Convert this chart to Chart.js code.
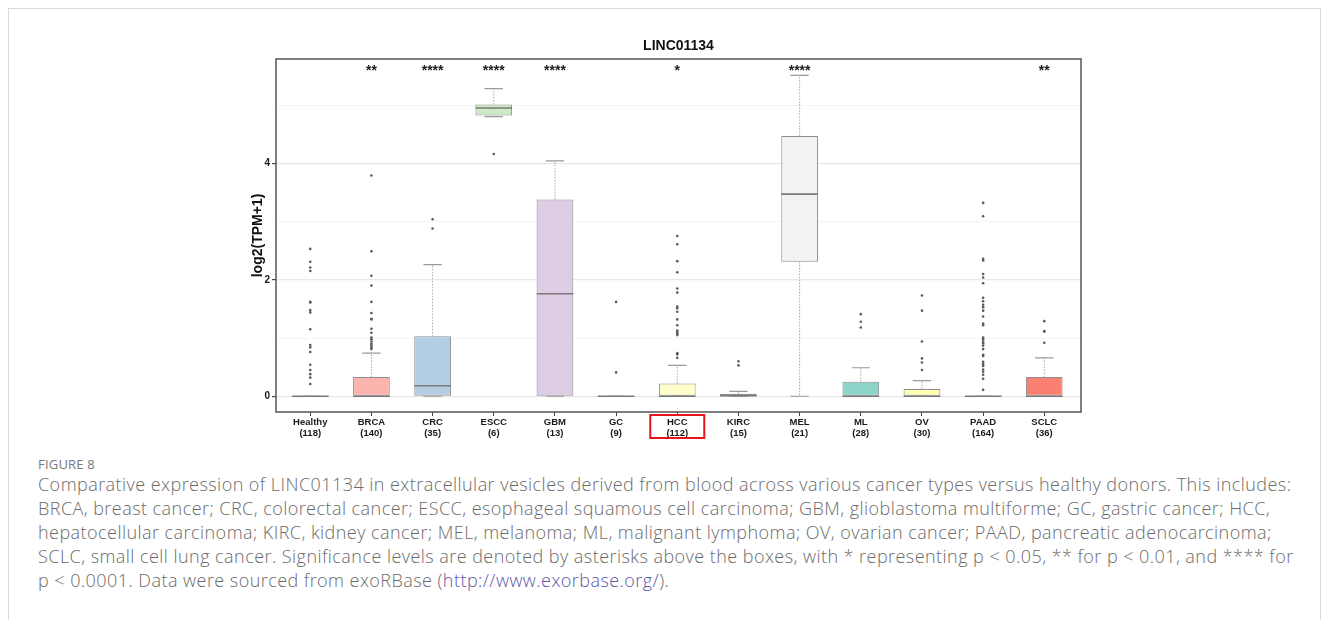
<!DOCTYPE html>
<html>
<head>
<meta charset="utf-8">
<script src="https://cdn.jsdelivr.net/npm/chart.js@4.4.1/dist/chart.umd.min.js"></script>
<style>
  html, body { margin: 0; padding: 0; background: #fff; }
  body { width: 1328px; height: 620px; position: relative; overflow: hidden; }
  #frame {
    position: absolute; left: 8px; top: 8px; width: 1313px; height: 640px;
    border: 1px solid #d9d9d9; box-sizing: border-box;
  }
  #chartBox { position: absolute; left: 0; top: 0; width: 1328px; height: 450px; }
  #caption {
    position: absolute; left: 38px; top: 456px; width: 1280px;
    font-family: "Open Sans", sans-serif; color: #6b6b6b;
  }
  .fig-label { font-size: 13px; line-height: 16px; color: #777; letter-spacing: 0.2px; }
  .fig-text { margin: 0; font-size: 18px; line-height: 24px; font-weight: 300; letter-spacing: 0.45px; white-space: nowrap; }
  .fig-text a { color: #5b56a8; text-decoration: none; }
</style>
</head>
<body>
<div id="frame"></div>
<div id="chartBox"><canvas id="boxplot"></canvas></div>
<div id="caption">
  <div class="fig-label">FIGURE 8</div>
  <p class="fig-text">Comparative expression of LINC01134 in extracellular vesicles derived from blood across various cancer types versus healthy donors. This includes:<br>BRCA, breast cancer; CRC, colorectal cancer; ESCC, esophageal squamous cell carcinoma; GBM, glioblastoma multiforme; GC, gastric cancer; HCC,<br>hepatocellular carcinoma; KIRC, kidney cancer; MEL, melanoma; ML, malignant lymphoma; OV, ovarian cancer; PAAD, pancreatic adenocarcinoma;<br>SCLC, small cell lung cancer. Significance levels are denoted by asterisks above the boxes, with * representing p &lt; 0.05, ** for p &lt; 0.01, and **** for<br>p &lt; 0.0001. Data were sourced from exoRBase (<a href="#">http://www.exorbase.org/</a>).</p>
</div>
<script>
// groups and sample sizes
const categories = ["Healthy", "BRCA", "CRC", "ESCC", "GBM", "GC", "HCC", "KIRC", "MEL", "ML", "OV", "PAAD", "SCLC"];
const sampleSizes = [118, 140, 35, 6, 13, 9, 112, 15, 21, 28, 30, 164, 36];

// box statistics, log2(TPM+1)
const lowerWhisker = [0, 0, 0, 4.80, 0, 0, 0, 0, 0, 0, 0, 0, 0];
const q1 = [0, 0, 0, 4.82, 0, 0, 0, 0, 2.31, 0, 0, 0, 0];
const median = [0, 0, 0.18, 4.95, 1.76, 0, 0, 0.01, 3.47, 0, 0, 0, 0];
const q3 = [0, 0.33, 1.03, 5.01, 3.38, 0, 0.22, 0.045, 4.47, 0.25, 0.125, 0, 0.33];
const upperWhisker = [0, 0.74, 2.26, 5.28, 4.04, 0, 0.53, 0.085, 5.51, 0.49, 0.27, 0, 0.66];

// outliers per group
const healthyOut = [2.53, 2.31, 2.21, 2.15, 1.62, 1.61, 1.48, 1.44, 1.15, 0.88, 0.84, 0.76, 0.54, 0.45, 0.38, 0.32, 0.21];
const brcaOut = [3.79, 2.49, 2.07, 1.90, 1.62, 1.43, 1.33, 1.32, 1.16, 1.09, 1.01, 0.98, 0.94, 0.90, 0.87, 0.84, 0.81];
const crcOut = [3.04, 2.88];
const esccOut = [4.16];
const gbmOut = [];
const gcOut = [1.62, 0.41];
const hccOut = [2.75, 2.61, 2.32, 2.13, 1.85, 1.78, 1.54, 1.51, 1.45, 1.32, 1.22, 1.13, 1.10, 1.07, 1.05, 0.74, 0.72, 0.66];
const kircOut = [0.60, 0.53];
const melOut = [];
const mlOut = [1.41, 1.28, 1.18];
const ovOut = [1.73, 1.47, 0.94, 0.65, 0.58, 0.45];
const paadOut = [3.32, 3.09, 2.36, 2.33, 2.10, 2.04, 1.94, 1.69, 1.63, 1.57, 1.53, 1.47, 1.37, 1.25, 1.22, 1.01, 0.98, 0.94, 0.91, 0.87, 0.81, 0.71, 0.69, 0.59, 0.55, 0.52, 0.46, 0.42, 0.37, 0.30, 0.11];
const sclcOut = [1.29, 1.12, 1.11, 0.92];
const outliers = [healthyOut, brcaOut, crcOut, esccOut, gbmOut, gcOut, hccOut, kircOut, melOut, mlOut, ovOut, paadOut, sclcOut];

// significance vs healthy
const significance = ["", "**", "****", "****", "****", "", "*", "", "****", "", "", "", "**"];
const significanceLevel = 5.63;
const highlighted = "HCC";
const chartTitle = "LINC01134";

const yTicks = [0, 1, 2, 3, 4, 5];

const boxColours = ["#E5D8BD", "#FBB4AE", "#B3CDE3", "#CCEBC5", "#DECBE4", "#FED9A6", "#FFFFCC",
  "#FDDAEC", "#F2F2F2", "#8DD3C7", "#FFFFB3", "#BEBADA", "#FB8072"];

const FONT = "'Liberation Sans', Arial, sans-serif";

const boxExtras = {
  id: "boxExtras",
  afterDatasetDraw(chart, args) {
    if (args.index !== 0) return;
    const ctx = chart.ctx;
    const xs = chart.scales.x, ys = chart.scales.y;
    const bars = chart.getDatasetMeta(0).data;
    ctx.save();
    categories.forEach((c, i) => {
      const x = xs.getPixelForValue(i + 1);
      const w = bars[i].width;
      const yLo = ys.getPixelForValue(lowerWhisker[i]);
      const yHi = ys.getPixelForValue(upperWhisker[i]);
      const yQ1 = ys.getPixelForValue(q1[i]);
      const yQ3 = ys.getPixelForValue(q3[i]);
      const yMed = ys.getPixelForValue(median[i]);
      // dotted whiskers
      ctx.strokeStyle = "#a8a8a8";
      ctx.lineWidth = 1;
      ctx.setLineDash([1.5, 1.5]);
      ctx.beginPath();
      if (yHi < yQ3) { ctx.moveTo(x, yQ3); ctx.lineTo(x, yHi); }
      if (yLo > yQ1) { ctx.moveTo(x, yQ1); ctx.lineTo(x, yLo); }
      ctx.stroke();
      // whisker caps
      ctx.setLineDash([]);
      ctx.strokeStyle = "#9a9a9a";
      ctx.lineWidth = 1.2;
      ctx.beginPath();
      ctx.moveTo(x - w / 4, yHi); ctx.lineTo(x + w / 4, yHi);
      ctx.moveTo(x - w / 4, yLo); ctx.lineTo(x + w / 4, yLo);
      ctx.stroke();
      // median
      ctx.strokeStyle = "#7a7a7a";
      ctx.lineWidth = 1.6;
      ctx.beginPath();
      ctx.moveTo(x - w / 2, yMed); ctx.lineTo(x + w / 2, yMed);
      ctx.stroke();
    });
    ctx.restore();
  },
  afterDraw(chart) {
    const ctx = chart.ctx;
    const xs = chart.scales.x, ys = chart.scales.y;
    const area = chart.chartArea;
    ctx.save();
    // panel border
    ctx.strokeStyle = "#555";
    ctx.lineWidth = 1.5;
    ctx.strokeRect(area.left, area.top, area.right - area.left, area.bottom - area.top);
    // title, centred over the panel
    ctx.fillStyle = "#111";
    ctx.font = "bold 14px " + FONT;
    ctx.textAlign = "center";
    ctx.textBaseline = "middle";
    ctx.fillText(chartTitle, (area.left + area.right) / 2, area.top - 13);
    // significance stars
    ctx.fillStyle = "#222";
    ctx.font = "bold 14px " + FONT;
    significance.forEach((s, i) => {
      if (s) ctx.fillText(s, xs.getPixelForValue(i + 1), ys.getPixelForValue(significanceLevel) + 3);
    });
    // highlighted group label
    const hx = xs.getPixelForValue(categories.indexOf(highlighted) + 1);
    ctx.strokeStyle = "#e8141b";
    ctx.lineWidth = 2;
    ctx.strokeRect(hx - 27, area.bottom + 3, 54, 23);
    ctx.restore();
  }
};

const ctx = document.getElementById("boxplot").getContext("2d");

new Chart(ctx, {
  type: "bar",
  data: {
    datasets: [
      {
        label: "box",
        data: categories.map((c, i) => ({ x: i + 1, y: [q1[i], q3[i]] })),
        backgroundColor: boxColours,
        borderColor: "#8e8e8e",
        borderWidth: 1,
        borderSkipped: false,
        barPercentage: 0.6,
        categoryPercentage: 1,
        order: 2
      },
      {
        type: "scatter",
        label: "outliers",
        data: outliers.flatMap((vals, i) => vals.map(v => ({ x: i + 1, y: v }))),
        pointRadius: 1.3,
        pointBackgroundColor: "#5a5a5a",
        pointBorderWidth: 0,
        order: 1
      }
    ]
  },
  options: {
    animation: false,
    responsive: true,
    maintainAspectRatio: false,
    layout: { padding: { left: 246, right: 247, top: 59, bottom: 0 } },
    plugins: {
      legend: { display: false },
      tooltip: { enabled: false },
      title: { display: false }
    },
    scales: {
      x: {
        type: "linear",
        min: 0.44,
        max: 13.6,
        offset: false,
        afterBuildTicks: scale => { scale.ticks = categories.map((c, i) => ({ value: i + 1 })); },
        afterFit: scale => { scale.height = 38; },
        border: { display: false },
        grid: { drawOnChartArea: false, offset: false, tickLength: 4, tickColor: "#444", lineWidth: 1 },
        ticks: {
          autoSkip: false,
          maxRotation: 0,
          padding: 1,
          color: "#1a1a1a",
          font: { family: FONT, size: 9.5, weight: "bold", lineHeight: 1.15 },
          callback: value => [categories[value - 1], "(" + sampleSizes[value - 1] + ")"]
        }
      },
      y: {
        min: -0.27,
        max: 5.79,
        afterBuildTicks: scale => { scale.ticks = yTicks.map(v => ({ value: v })); },
        afterFit: scale => { scale.width = 30; },
        border: { display: false },
        grid: {
          tickLength: 4,
          lineWidth: ctx => (ctx.tick && ctx.tick.value % 2 === 0 ? 1.2 : 1),
          color: ctx => (ctx.tick && ctx.tick.value % 2 === 0 ? "#e8e8e8" : "#f4f4f4"),
          tickColor: ctx => (ctx.tick && ctx.tick.value % 2 === 0 ? "#444" : "rgba(0,0,0,0)")
        },
        ticks: {
          padding: 2,
          color: "#1a1a1a",
          font: { family: FONT, size: 10, weight: "bold" },
          callback: value => (value % 2 === 0 ? value : "")
        },
        title: {
          display: true,
          text: "log2(TPM+1)",
          color: "#111",
          font: { family: FONT, size: 14, weight: "bold" },
          padding: { top: 4, bottom: 0 }
        }
      }
    }
  },
  plugins: [boxExtras]
});
</script>
</body>
</html>
